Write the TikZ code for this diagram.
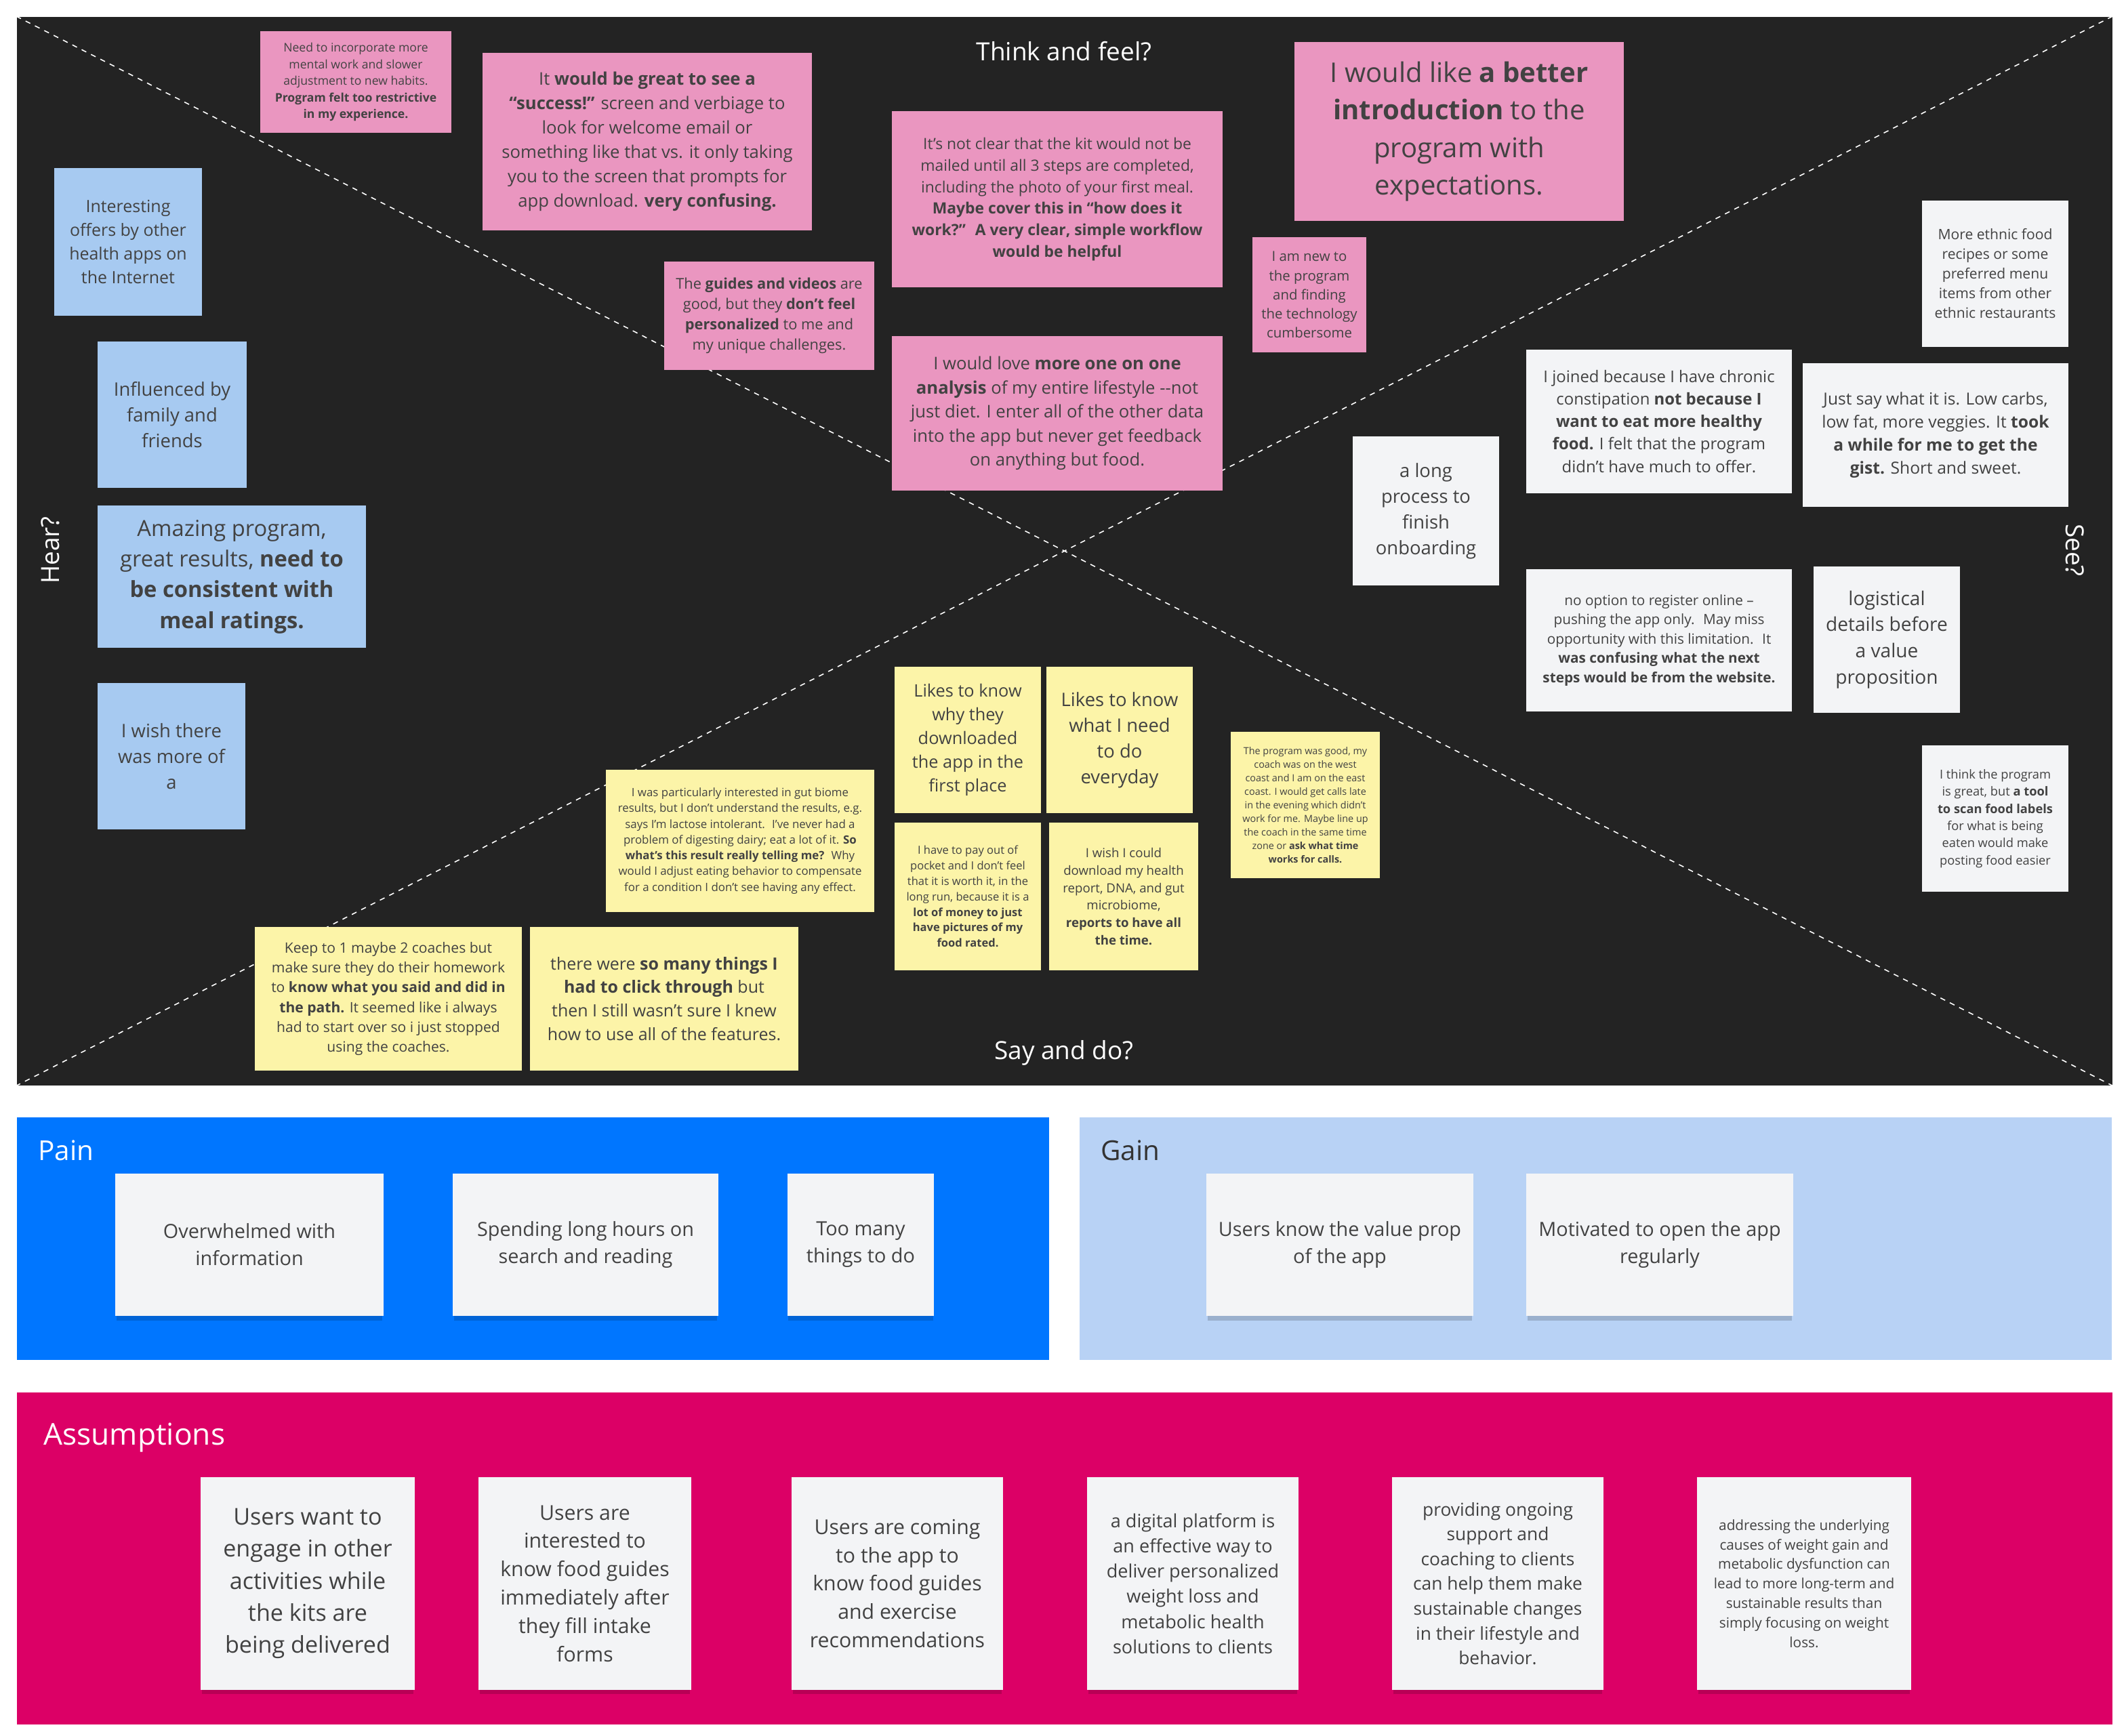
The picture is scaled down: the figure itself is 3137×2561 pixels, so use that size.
\documentclass[tikz,border=0pt]{standalone}
\usepackage{fontspec}
\setmainfont{Open Sans}
\usetikzlibrary{shadows}
\definecolor{board}{RGB}{35,35,35}
\definecolor{pinknote}{RGB}{234,150,192}
\definecolor{bluenote}{RGB}{167,202,241}
\definecolor{yellownote}{RGB}{252,244,168}
\definecolor{whitenote}{RGB}{243,244,246}
\definecolor{painbg}{RGB}{0,118,255}
\definecolor{gainbg}{RGB}{184,210,245}
\definecolor{assumbg}{RGB}{220,0,102}
\definecolor{notetext}{RGB}{66,66,66}
\newcommand\fz[2]{\fontsize{#1}{#2}\selectfont}
\newcommand\stick[7]{%
  \pgfmathsetmacro\sw{(#5-#3)*0.01}%
  \pgfmathsetmacro\sh{(#6-#4)*0.01}%
  \pgfmathsetmacro\scx{(#3+#5)/2}%
  \pgfmathsetmacro\scy{(#4+#6)/2}%
  \node[stk,#2,minimum width=\sw cm,minimum height=\sh cm] (#1) at (\scx,\scy) {#7};}
\tikzset{
  stk/.style={rectangle,inner sep=0pt,align=center,text=notetext},
  pinkst/.style={fill=pinknote},
  bluest/.style={fill=bluenote},
  yellowst/.style={fill=yellownote},
  whitest/.style={fill=whitenote},
  shad/.style={fill=whitenote,drop shadow={shadow xshift=0pt,shadow yshift=-2.2pt,shadow scale=0.99,opacity=0.16,fill=black}},
  diag/.style={white,line width=0.45pt,dash pattern=on 2.2pt off 2.2pt},
  axislabel/.style={text=white,font=\fz{10.5}{13}},
  panel/.style={rectangle,inner sep=0pt,anchor=north west},
}
\begin{document}
\begin{tikzpicture}[x=0.01cm,y=-0.01cm]
\useasboundingbox (0,0) rectangle (3137,2561);
\fill[white] (0,0) rectangle (3137,2561);
% main board
\node[panel,fill=board,minimum width=30.9cm,minimum height=15.76cm] (brd) at (24,24) {};
\draw[diag] (brd.north west) -- (brd.south east);
\draw[diag] (brd.north east) -- (brd.south west);
\node[axislabel] (think) at (1570,76) {Think and feel?};
\node[axislabel] (say) at (1570,1554) {Say and do?};
\node[axislabel,rotate=90] (hear) at (74,812) {Hear?};
\node[axislabel,rotate=-90] (see) at (3062,812) {See?};
% pink notes
\stick{p1}{pinkst,font=\fz{5}{6.95}}{384}{46}{666}{196}{Need to incorporate more\\mental work and slower\\adjustment to new habits.\\\textbf{Program felt too restrictive}\\\textbf{in my experience.}}
\stick{p2}{pinkst,font=\fz{7.3}{10.2}}{712}{78}{1198}{340}{It \textbf{would be great to see a}\\\textbf{“success!”} screen and verbiage to\\look for welcome email or\\something like that vs. it only taking\\you to the screen that prompts for\\app download. \textbf{very confusing.}}
\stick{p3}{pinkst,font=\fz{6.5}{9}}{1316}{164}{1804}{424}{It’s not clear that the kit would not be\\mailed until all 3 steps are completed,\\including the photo of your first meal.\\\textbf{Maybe cover this in “how does it}\\\textbf{work?”~ A very clear, simple workflow}\\\textbf{would be helpful}}
\stick{p4}{pinkst,font=\fz{11.4}{15.7}}{1910}{62}{2396}{326}{I would like \textbf{a better}\\\textbf{introduction} to the\\program with\\expectations.}
\stick{p5}{pinkst,font=\fz{6.2}{8.5}}{980}{386}{1290}{546}{The \textbf{guides and videos} are\\good, but they \textbf{don’t feel}\\\textbf{personalized} to me and\\my unique challenges.}
\stick{p6}{pinkst,font=\fz{7.3}{10.1}}{1316}{496}{1804}{724}{I would love \textbf{more one on one}\\\textbf{analysis} of my entire lifestyle -{}-not\\just diet. I enter all of the other data\\into the app but never get feedback\\on anything but food.}
\stick{p7}{pinkst,font=\fz{5.8}{8}}{1848}{350}{2016}{520}{I am new to\\the program\\and finding\\the technology\\cumbersome}
% blue notes
\stick{b1}{bluest,font=\fz{7.1}{9.9}}{80}{248}{298}{466}{Interesting\\offers by other\\health apps on\\the Internet}
\stick{b2}{bluest,font=\fz{7.8}{10.8}}{144}{504}{364}{720}{Influenced by\\family and\\friends}
\stick{b3}{bluest,font=\fz{9.3}{12.9}}{144}{746}{540}{956}{Amazing program,\\great results, \textbf{need to}\\\textbf{be consistent with}\\\textbf{meal ratings.}}
\stick{b4}{bluest,font=\fz{7.8}{10.8}}{144}{1008}{362}{1224}{I wish there\\was more of\\a}
% white notes
\stick{w1}{whitest,font=\fz{6}{8.25}}{2836}{296}{3052}{512}{More ethnic food\\recipes or some\\preferred menu\\items from other\\ethnic restaurants}
\stick{w2}{whitest,font=\fz{6.8}{9.4}}{2252}{516}{2644}{728}{I joined because I have chronic\\constipation \textbf{not because I}\\\textbf{want to eat more healthy}\\\textbf{food.} I felt that the program\\didn’t have much to offer.}
\stick{w3}{whitest,font=\fz{7}{9.7}}{2660}{536}{3052}{748}{Just say what it is. Low carbs,\\low fat, more veggies. It \textbf{took}\\\textbf{a while for me to get the}\\\textbf{gist.} Short and sweet.}
\stick{w4}{whitest,font=\fz{7.8}{10.8}}{1996}{644}{2212}{864}{a long\\process to\\finish\\onboarding}
\stick{w5}{whitest,font=\fz{5.9}{8.1}}{2252}{840}{2644}{1050}{no option to register online –\\pushing the app only.~ May miss\\opportunity with this limitation.~ It\\\textbf{was confusing what the next}\\\textbf{steps would be from the website.}}
\stick{w6}{whitest,font=\fz{8}{11}}{2676}{836}{2892}{1052}{logistical\\details before\\a value\\proposition}
\stick{w7}{whitest,font=\fz{5.2}{7.2}}{2836}{1100}{3052}{1316}{I think the program\\is great, but \textbf{a tool}\\\textbf{to scan food labels}\\for what is being\\eaten would make\\posting food easier}
% yellow notes
\stick{y1}{yellowst,font=\fz{7.2}{10}}{1320}{984}{1536}{1200}{Likes to know\\why they\\downloaded\\the app in the\\first place}
\stick{y2}{yellowst,font=\fz{7.8}{10.8}}{1544}{984}{1760}{1200}{Likes to know\\what I need\\to do\\everyday}
\stick{y3}{yellowst,font=\fz{4.1}{5.7}}{1816}{1080}{2036}{1296}{The program was good, my\\coach was on the west\\coast and I am on the east\\coast. I would get calls late\\in the evening which didn’t\\work for me. Maybe line up\\the coach in the same time\\zone or \textbf{ask what time}\\\textbf{works for calls.}}
\stick{y4}{yellowst,font=\fz{4.8}{6.6}}{894}{1136}{1290}{1346}{I was particularly interested in gut biome\\results, but I don't understand the results, e.g.\\says I'm lactose intolerant.~ I've never had a\\problem of digesting dairy; eat a lot of it. \textbf{So}\\\textbf{what's this result really telling me?}~ Why\\would I adjust eating behavior to compensate\\for a condition I don't see having any effect.}
\stick{y5}{yellowst,font=\fz{4.7}{6.5}}{1320}{1214}{1536}{1432}{I have to pay out of\\pocket and I don’t feel\\that it is worth it, in the\\long run, because it is a\\\textbf{lot of money to just}\\\textbf{have pictures of my}\\\textbf{food rated.}}
\stick{y6}{yellowst,font=\fz{5.3}{7.3}}{1548}{1214}{1768}{1432}{I wish I could\\download my health\\report, DNA, and gut\\microbiome,\\\textbf{reports to have all}\\\textbf{the time.}}
\stick{y7}{yellowst,font=\fz{6}{8.3}}{376}{1368}{770}{1580}{Keep to 1 maybe 2 coaches but\\make sure they do their homework\\to \textbf{know what you said and did in}\\\textbf{the path.} It seemed like i always\\had to start over so i just stopped\\using the coaches.}
\stick{y8}{yellowst,font=\fz{7.1}{9.9}}{782}{1368}{1178}{1580}{there were \textbf{so many things I}\\\textbf{had to click through} but\\then I still wasn’t sure I knew\\how to use all of the features.}
% Pain panel
\node[panel,fill=painbg,minimum width=15.22cm,minimum height=3.58cm] (pain) at (24,1648) {};
\node[anchor=west,text=white,font=\fz{11.5}{14}] (painlbl) at (44,1698) {Pain};
\stick{pn1}{shad,font=\fz{8.2}{11.4}}{170}{1732}{566}{1942}{Overwhelmed with\\information}
\stick{pn2}{shad,font=\fz{8.2}{11.4}}{668}{1732}{1060}{1942}{Spending long hours on\\search and reading}
\stick{pn3}{shad,font=\fz{8.2}{11.4}}{1162}{1732}{1378}{1942}{Too many\\things to do}
% Gain panel
\node[panel,fill=gainbg,minimum width=15.22cm,minimum height=3.58cm] (gain) at (1592,1648) {};
\node[anchor=west,text=black!80,font=\fz{11.5}{14}] (gainlbl) at (1612,1698) {Gain};
\stick{gn1}{shad,font=\fz{8.2}{11.4}}{1780}{1732}{2174}{1942}{Users know the value prop\\of the app}
\stick{gn2}{shad,font=\fz{8.2}{11.4}}{2252}{1732}{2646}{1942}{Motivated to open the app\\regularly}
% Assumptions panel
\node[panel,fill=assumbg,minimum width=30.9cm,minimum height=4.9cm] (assum) at (24,2054) {};
\node[anchor=west,text=white,font=\fz{12.6}{15}] (assumlbl) at (52,2122) {Assumptions};
\stick{a1}{shad,font=\fz{9.7}{13.4}}{296}{2180}{612}{2494}{Users want to\\engage in other\\activities while\\the kits are\\being delivered}
\stick{a2}{shad,font=\fz{8.6}{11.9}}{706}{2180}{1020}{2494}{Users are\\interested to\\know food guides\\immediately after\\they fill intake\\forms}
\stick{a3}{shad,font=\fz{8.6}{11.9}}{1168}{2180}{1480}{2494}{Users are coming\\to the app to\\know food guides\\and exercise\\recommendations}
\stick{a4}{shad,font=\fz{7.7}{10.6}}{1604}{2180}{1916}{2494}{a digital platform is\\an effective way to\\deliver personalized\\weight loss and\\metabolic health\\solutions to clients}
\stick{a5}{shad,font=\fz{7.5}{10.4}}{2054}{2180}{2366}{2494}{providing ongoing\\support and\\coaching to clients\\can help them make\\sustainable changes\\in their lifestyle and\\behavior.}
\stick{a6}{shad,font=\fz{5.9}{8.2}}{2504}{2180}{2820}{2494}{addressing the underlying\\causes of weight gain and\\metabolic dysfunction can\\lead to more long-term and\\sustainable results than\\simply focusing on weight\\loss.}
\end{tikzpicture}
\end{document}
